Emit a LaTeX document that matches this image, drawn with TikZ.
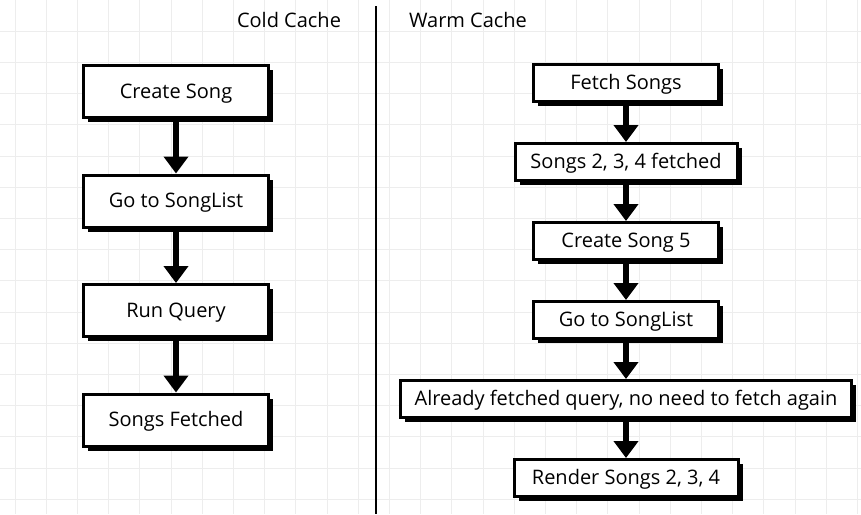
\documentclass[tikz,border=0pt]{standalone}
\usepackage{fontspec}
\setmainfont{Open Sans}
\usetikzlibrary{arrows.meta, positioning, shadows}

\begin{document}
\begin{tikzpicture}[
  x=1pt, y=-1pt,
  font=\fontsize{20}{23}\selectfont,
  gridline/.style={draw=black!7, line width=1pt},
  card/.style={draw, line width=3pt, fill=white, align=center, inner xsep=10pt,
    text height=16pt, text depth=3pt,
    drop shadow={shadow xshift=4.5pt, shadow yshift=-4.5pt, opacity=1, fill=black}},
  coldbox/.style={card, minimum width=185pt, minimum height=52pt},
  warmbox/.style={card, minimum width=185pt, minimum height=37pt},
  arrow/.style={-{Triangle[width=24pt,length=17pt]}, line width=5.5pt}
]
\useasboundingbox[fill=white] (0,0) rectangle (861,514);
% grid paper
\foreach \gx in {15,46.2,...,861} \draw[gridline] (\gx,0) -- (\gx,514);
\foreach \gy in {31.2,62.4,...,514} \draw[gridline] (0,\gy) -- (861,\gy);

% headings and divider
\node (coldtitle) at (289,20) {Cold Cache};
\node (warmtitle) at (468,20) {Warm Cache};
\coordinate (divtop) at (376,6);
\coordinate (divbot) at (376,514);
\draw[line width=2.5pt] (divtop) -- (divbot);

% cold cache
\begin{scope}[node distance=54.5pt]
\node[coldbox] (create) at (176,91.5) {Create Song};
\node[coldbox, below=of create] (golist) {Go to SongList};
\node[coldbox, below=of golist] (query) {Run Query};
\node[coldbox, below=of query] (fetched) {Songs Fetched};
\end{scope}

% warm cache
\begin{scope}[node distance=39pt]
\node[warmbox] (fetch) at (626,83) {Fetch Songs};
\node[warmbox, minimum width=222pt, below=of fetch] (have) {Songs 2, 3, 4 fetched};
\node[warmbox, below=of have] (create5) {Create Song 5};
\node[warmbox, below=of create5] (golist2) {Go to SongList};
\node[warmbox, minimum width=451pt, below=of golist2] (cached) {Already fetched query, no need to fetch again};
\node[warmbox, minimum width=224pt, below=of cached] (render) {Render Songs 2, 3, 4};
\end{scope}

\draw[arrow] (create) -- (golist);
\draw[arrow] (golist) -- (query);
\draw[arrow] (query) -- (fetched);

\draw[arrow] (fetch) -- (have);
\draw[arrow] (have) -- (create5);
\draw[arrow] (create5) -- (golist2);
\draw[arrow] (golist2) -- (cached);
\draw[arrow] (cached) -- (render);
\end{tikzpicture}
\end{document}
